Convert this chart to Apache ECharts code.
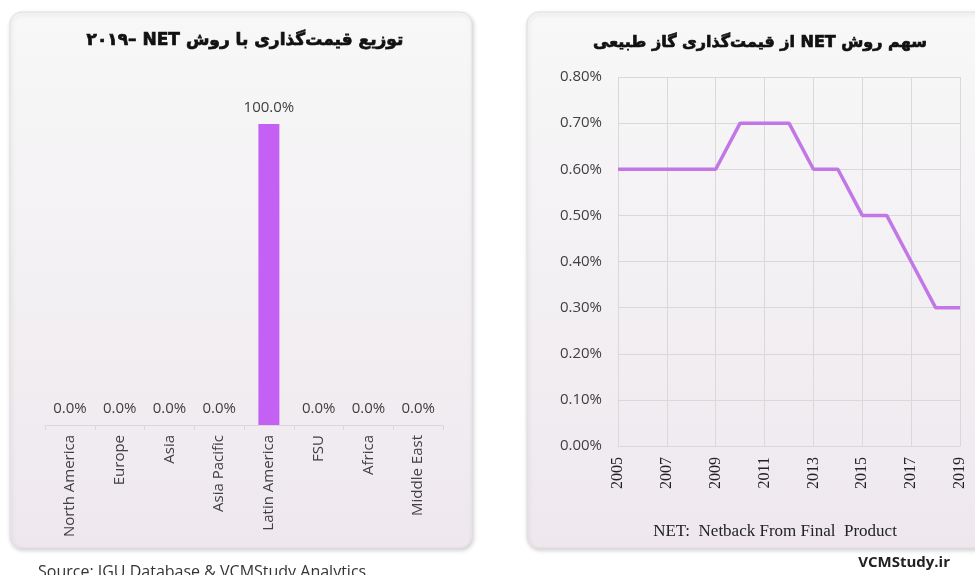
<!DOCTYPE html>
<html>
<head>
<meta charset="utf-8">
<script src="https://cdn.jsdelivr.net/npm/echarts@6/dist/echarts.min.js"></script>
<style>
html,body{margin:0;padding:0;background:#fff;}
#main{width:975px;height:575px;}
</style>
</head>
<body>
<div id="main"></div>
<script>
//مناطق - نمودار ستونی
var regions = ['North America', 'Europe', 'Asia', 'Asia Pacific', 'Latin America', 'FSU', 'Africa', 'Middle East'];
var regionShare = [0, 0, 0, 0, 100, 0, 0, 0];
//سال ها - نمودار خطی
var years = ['2005', '2006', '2007', '2008', '2009', '2010', '2011', '2012', '2013', '2014', '2015', '2016', '2017', '2018', '2019'];
var netShare = [0.6, 0.6, 0.6, 0.6, 0.6, 0.7, 0.7, 0.7, 0.6, 0.6, 0.5, 0.5, 0.4, 0.3, 0.3];

//عنوان ها (با کاراکترهای جهت راست به چپ)
var leftTitle = '\u202Bتوزیع قیمت‌گذاری با روش NET \u200F–۲۰۱۹\u202C';
var rightTitle = '\u202Bسهم روش NET از قیمت‌گذاری گاز طبیعی\u202C';

var sans = '"Open Sans", "Noto Sans", sans-serif';
var serif = '"Liberation Serif", "DejaVu Serif", serif';
var labelColor = '#404040';
var gridColor = '#d9d9d9';

var chart = echarts.init(document.getElementById('main'));

//پس زمینه پنل ها
function panel(x, w) {
	return {
		type: 'rect',
		z: -10,
		shape: { x: x, y: 12, width: w, height: 536, r: 12 },
		style: {
			fill: new echarts.graphic.LinearGradient(0, 0, 0, 1, [
				{ offset: 0, color: '#f8f8f8' },
				{ offset: 1, color: '#eee8ee' }
			]),
			stroke: '#e2e0e2',
			lineWidth: 1,
			shadowBlur: 4,
			shadowOffsetX: 1,
			shadowOffsetY: 2,
			shadowColor: 'rgba(0,0,0,0.18)'
		}
	};
}

function titleText(text, x, y, size) {
	return {
		type: 'text', z: 5,
		x: x, y: y,
		style: {
			text: text,
			font: 'bold ' + size + 'px "DejaVu Sans", sans-serif',
			fill: '#111', stroke: '#111', lineWidth: 0.7,
			align: 'center', verticalAlign: 'middle'
		}
	};
}

var option = {
	animation: false,
	backgroundColor: '#ffffff',
	graphic: [
		panel(10, 462),
		panel(527, 460),
		titleText(leftTitle, 245, 41, 17),
		titleText(rightTitle, 760, 43, 16),
		{
			type: 'text', z: 5,
			x: 775, y: 532,
			style: {
				text: 'NET:  Netback From Final  Product',
				font: '17px ' + serif,
				fill: '#222', align: 'center', verticalAlign: 'middle'
			}
		},
		{
			type: 'text', z: 5,
			x: 38, y: 572,
			style: {
				text: 'Source: IGU Database & VCMStudy Analytics',
				font: '16px ' + sans,
				fill: '#333', align: 'left', verticalAlign: 'middle'
			}
		},
		{
			type: 'text', z: 5,
			x: 950, y: 563,
			style: {
				text: 'VCMStudy.ir',
				font: 'bold 15px ' + sans,
				fill: '#222', align: 'right', verticalAlign: 'middle'
			}
		}
	],
	grid: [
		{ left: 45, top: 124, width: 398, height: 301 },
		{ left: 618, top: 77, width: 342, height: 369 }
	],
	xAxis: [{
		type: 'category',
		gridIndex: 0,
		data: regions,
		axisLine: { lineStyle: { color: gridColor } },
		axisTick: { show: true, length: 5, lineStyle: { color: gridColor } },
		axisLabel: {
			rotate: 90, margin: 10, interval: 0,
			color: labelColor, fontFamily: sans, fontSize: 15
		}
	}, {
		type: 'category',
		gridIndex: 1,
		data: years,
		boundaryGap: false,
		axisLine: { lineStyle: { color: gridColor } },
		axisTick: { show: false },
		axisLabel: {
			rotate: 90, margin: 11, interval: 1,
			color: '#222', fontFamily: serif, fontSize: 16
		},
		splitLine: { show: true, interval: 1, lineStyle: { color: gridColor } }
	}],
	yAxis: [{
		type: 'value',
		gridIndex: 0,
		min: 0, max: 100,
		show: false
	}, {
		type: 'value',
		gridIndex: 1,
		min: 0, max: 0.8, interval: 0.1,
		axisLine: { show: false },
		axisTick: { show: false },
		axisLabel: {
			margin: 16, color: labelColor, fontFamily: sans, fontSize: 15,
			formatter: function (v) { return v.toFixed(2) + '%'; }
		},
		splitLine: { lineStyle: { color: gridColor } }
	}],
	series: [{
		type: 'bar',
		xAxisIndex: 0,
		yAxisIndex: 0,
		data: regionShare,
		barWidth: 21,
		itemStyle: { color: '#c560f5' },
		label: {
			show: true, position: 'top', distance: 9,
			color: labelColor, fontFamily: sans, fontSize: 15,
			formatter: function (p) { return p.value.toFixed(1) + '%'; }
		}
	}, {
		type: 'line',
		xAxisIndex: 1,
		yAxisIndex: 1,
		data: netShare,
		showSymbol: false,
		lineStyle: { color: '#c277e6', width: 3.5 },
		itemStyle: { color: '#c277e6' }
	}]
};

chart.setOption(option);
</script>
</body>
</html>
